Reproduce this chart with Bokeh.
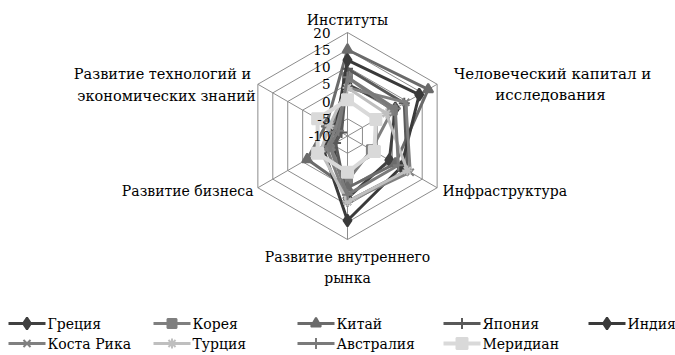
import math
from bokeh.plotting import figure
from bokeh.models import Range1d
from bokeh.core.properties import value
from bokeh.embed import file_html
from bokeh.resources import INLINE

# ---------------- data ----------------
categories = ["Институты", "Человеческий капитал и исследования", "Инфраструктура",
              "Развитие внутреннего рынка", "Развитие бизнеса",
              "Развитие технологий и экономических знаний"]
tick_values = [-10, -5, 0, 5, 10, 15, 20]

series_names = ["Греция", "Корея", "Китай", "Япония", "Индия",
                "Коста Рика", "Турция", "Австралия", "Меридиан"]
greece     = [5.0, 6.0, 4.0, 8.0, -5.0, -7.0]
korea      = [7.0, 5.0, -2.0, 3.0, -4.0, -5.0]
china      = [15.0, 17.0, 6.0, 5.0, 3.5, -3.0]
japan      = [9.5, 9.0, 10.0, 9.0, -6.0, -8.0]
india      = [12.0, 14.0, 8.0, 14.5, -2.0, -6.0]
costa_rica = [4.0, 9.5, 11.0, 9.0, -3.0, -6.0]
turkey     = [4.0, 3.0, 10.0, 9.0, -1.0, -4.0]
australia  = [7.0, 6.0, 7.0, 7.0, -4.0, -7.0]
median     = [0.5, -0.5, -1.0, 0.5, 0.0, 0.0]
series_values = [greece, korea, china, japan, india, costa_rica, turkey, australia, median]

# ---------------- styles ----------------
colors  = ["#404040", "#7f7f7f", "#6b6b6b", "#595959", "#3a3a3a",
           "#808080", "#bfbfbf", "#7a7a7a", "#d9d9d9"]
markers = ["diamond", "square", "triangle", "cross", "diamond",
           "x", "asterisk", "cross", "square"]
msizes  = [12, 9, 10, 11, 12, 10, 10, 11, 11]
lwidths = [3, 3, 3, 3, 3, 3, 3, 3, 4]

W, H = 675, 355
R_PX = 103.5
VMIN, VMAX = tick_values[0], tick_values[-1]
S = R_PX / (VMAX - VMIN)          # px per unit
CX, CY = 347.0, 135.5             # centre in figure pixels (from top-left)

p = figure(width=W, height=H, output_backend="svg", toolbar_location=None,
           x_axis_type=None, y_axis_type=None, min_border=0,
           x_range=Range1d(-CX / S, (W - CX) / S),
           y_range=Range1d(-(H - CY) / S, CY / S))
p.outline_line_color = None
p.background_fill_color = "white"


def P(px, py):
    """page pixel -> data coords"""
    return ((px - CX) / S, (CY - py) / S)


n = len(categories)
angles = [math.radians(90 - 60 * i) for i in range(n)]


def pt(v, a):
    r = v - VMIN
    return r * math.cos(a), r * math.sin(a)


# grid rings
grid_col = "#8c8c8c"
for tv in tick_values[1:]:
    xs = [pt(tv, a)[0] for a in angles] + [pt(tv, angles[0])[0]]
    ys = [pt(tv, a)[1] for a in angles] + [pt(tv, angles[0])[1]]
    p.line(xs, ys, line_color=grid_col, line_width=1)
# spokes
for a in angles:
    x1, y1 = pt(VMAX, a)
    p.line([0, x1], [0, y1], line_color=grid_col, line_width=1)

# series
for name, vals, c, m, ms, lw in zip(series_names, series_values, colors, markers, msizes, lwidths):
    xs = [pt(v, a)[0] for v, a in zip(vals, angles)]
    ys = [pt(v, a)[1] for v, a in zip(vals, angles)]
    p.line(xs + [xs[0]], ys + [ys[0]], line_color=c, line_width=lw)
    p.scatter(xs, ys, marker=m, size=ms, fill_color=c, line_color=c, line_width=2)

FONT = value("DejaVu Serif")
FS = "14px"

# tick labels
tx = P(330, 0)[0]
p.text(x=[tx] * len(tick_values), y=[tv - VMIN for tv in tick_values],
       text=[str(t) for t in tick_values], text_font=FONT, text_font_size="13.5px",
       text_align="right", text_baseline="middle", text_color="#000000")

# category labels (lines)
cat_lines = [
    ("Институты", 347, 19, "center", "14px"),
    ("Человеческий капитал и", 552, 73, "center", "15px"),
    ("исследования", 550, 94, "center", "15px"),
    ("Инфраструктура", 442, 190, "left", "14px"),
    ("Развитие внутреннего", 347, 256, "center", "14px"),
    ("рынка", 347, 277, "center", "14px"),
    ("Развитие бизнеса", 253, 190, "right", "14px"),
    ("Развитие технологий и", 162, 73, "center", "14.5px"),
    ("экономических знаний", 166, 95, "center", "14.5px"),
]
for t, px, py, al, fs in cat_lines:
    x, y = P(px, py)
    p.text(x=[x], y=[y], text=[t], text_font=FONT, text_font_size=fs,
           text_align=al, text_baseline="middle", text_color="#000000")

# legend (manual)
col_x = [8, 153, 297, 443, 588]
row_y = [323, 343]
for i, (name, c, m, ms, lw) in enumerate(zip(series_names, colors, markers, msizes, lwidths)):
    row, col = divmod(i, 5)
    lx0, ly = P(col_x[col], row_y[row])
    lx1, _ = P(col_x[col] + 37, row_y[row])
    lxm, _ = P(col_x[col] + 18.5, row_y[row])
    p.line([lx0, lx1], [ly, ly], line_color=c, line_width=lw)
    p.scatter([lxm], [ly], marker=m, size=ms, fill_color=c, line_color=c, line_width=2)
    tx0, _ = P(col_x[col] + 39, row_y[row])
    p.text(x=[tx0], y=[ly], text=[name], text_font=FONT, text_font_size=FS,
           text_align="left", text_baseline="middle", text_color="#000000")

open("out.html", "w").write(file_html(p, INLINE))
